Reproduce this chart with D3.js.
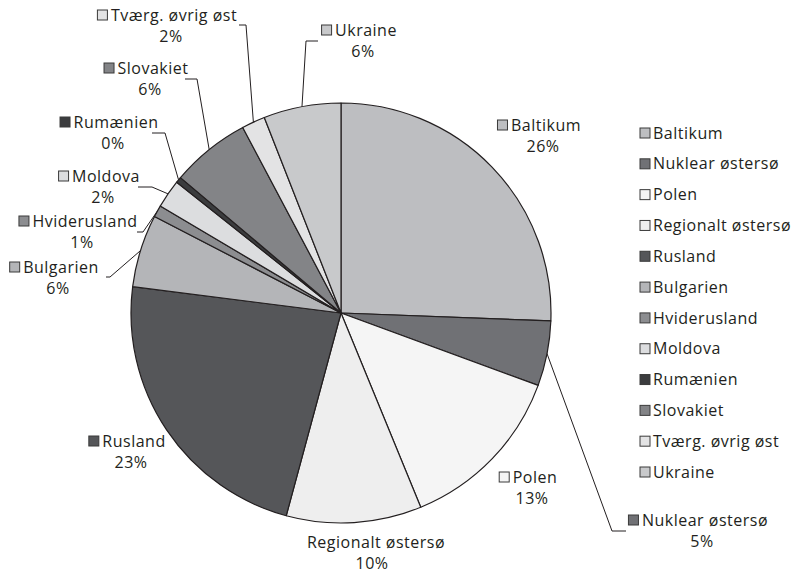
<!DOCTYPE html>
<html>
<head>
<meta charset="utf-8">
<script src="https://cdn.jsdelivr.net/npm/d3@7"></script>
<style>
  body { margin: 0; background: #fff; }
  svg { display: block; }
</style>
</head>
<body>
<div class="chart"></div>
<script>
// data
const names = ["Baltikum", "Nuklear østersø", "Polen", "Regionalt østersø", "Rusland", "Bulgarien",
  "Hviderusland", "Moldova", "Rumænien", "Slovakiet", "Tværg. øvrig øst", "Ukraine"];
const values = [25.6, 5.0, 13.2, 10.4, 22.8, 5.6, 0.9, 2.2, 0.45, 6.1, 1.8, 5.95];
const fills = ["#bdbec1", "#707175", "#f5f5f5", "#eeeeee", "#555659", "#b4b5b8",
  "#8c8d90", "#dcdddf", "#3b3c3e", "#838487", "#e3e3e4", "#c8c9cb"];

// where each data label sits: centre x of the % line, y of the name line,
// and (if any) the elbow and end of the leader line
const labelLayout = {
  "Baltikum":          {cx: 543, y: 125},
  "Nuklear østersø":   {cx: 702, y: 520, elbow: [612, 531], end: 626},
  "Polen":             {cx: 532, y: 477},
  "Regionalt østersø": {cx: 372, y: 542, noKey: true},
  "Rusland":           {cx: 131, y: 441},
  "Bulgarien":         {cx: 58,  y: 267, elbow: [110, 277], end: 106},
  "Hviderusland":      {cx: 82,  y: 221, elbow: [143, 232], end: 137},
  "Moldova":           {cx: 103, y: 176, elbow: [152, 187], end: 138},
  "Rumænien":          {cx: 113, y: 122, elbow: [165, 133], end: 152},
  "Slovakiet":         {cx: 150, y: 68,  elbow: [197, 79],  end: 185},
  "Tværg. øvrig øst":  {cx: 171, y: 15,  elbow: [246, 25],  end: 239},
  "Ukraine":           {cx: 363, y: 30,  elbow: [306, 41],  end: 318}
};

const width = 805;
const height = 573;
const cx = 341, cy = 313, radius = 210;
const font = "'Open Sans', sans-serif";
const ink = "#231f20";
const lineGap = 21.5;

const data = names.map((n, i) => ({name: n, value: values[i], fill: fills[i]}));
const total = d3.sum(values);

const svg = d3.select('.chart')
  .append('svg')
  .attr('width', width)
  .attr('height', height)
  .style('font-family', font)
  .style('font-size', '16px')
  .style('letter-spacing', '0.5px');

const pie = d3.pie().sort(null).value(d => d.value);
const arc = d3.arc().innerRadius(0).outerRadius(radius);
const arcs = pie(data);

const pieG = svg.append('g').attr('transform', `translate(${cx},${cy})`);
pieG.selectAll('path')
  .data(arcs)
  .join('path')
    .attr('d', arc)
    .attr('fill', d => d.data.fill)
    .attr('stroke', ink)
    .attr('stroke-width', 1.2)
    .attr('stroke-linejoin', 'round');

// leader lines
const leaders = svg.append('g')
  .attr('fill', 'none')
  .attr('stroke', ink)
  .attr('stroke-width', 1);

arcs.forEach(d => {
  const lay = labelLayout[d.data.name];
  if (!lay.elbow) return;
  const mid = (d.startAngle + d.endAngle) / 2;
  const sx = cx + radius * Math.sin(mid);
  const sy = cy - radius * Math.cos(mid);
  leaders.append('polyline')
    .attr('points', [[sx, sy], lay.elbow, [lay.end, lay.elbow[1]]].map(p => p.join(',')).join(' '));
});

// data labels
const labels = svg.append('g').attr('fill', ink);
arcs.forEach(d => {
  const lay = labelLayout[d.data.name];
  const g = labels.append('g');
  const t = g.append('text')
    .attr('y', lay.y)
    .attr('dy', '0.35em')
    .text(d.data.name);
  const tw = t.node().getComputedTextLength();
  if (lay.noKey) {
    t.attr('x', lay.cx + 4 - tw / 2);
  } else {
    const w = 14 + tw;
    const x0 = lay.cx - w / 2 - 4;
    g.append('rect')
      .attr('x', x0 + 0.5)
      .attr('y', lay.y - 5)
      .attr('width', 10)
      .attr('height', 10)
      .attr('fill', d.data.fill)
      .attr('stroke', '#3a3a3a')
      .attr('stroke-width', 1);
    t.attr('x', x0 + 14);
  }
  g.append('text')
    .attr('x', lay.cx)
    .attr('y', lay.y + lineGap)
    .attr('dy', '0.35em')
    .attr('text-anchor', 'middle')
    .text(Math.round(d.data.value / total * 100) + '%');
});

// legend
const legY = d3.scalePoint().domain(names).range([133, 472]);
const legend = svg.append('g');
legend.selectAll('rect')
  .data(data)
  .join('rect')
    .attr('x', 640)
    .attr('y', d => legY(d.name) - 5)
    .attr('width', 10)
    .attr('height', 10)
    .attr('fill', d => d.fill)
    .attr('stroke', '#3a3a3a')
    .attr('stroke-width', 1);
legend.selectAll('text')
  .data(data)
  .join('text')
    .attr('x', 653)
    .attr('y', d => legY(d.name))
    .attr('dy', '0.35em')
    .attr('fill', ink)
    .text(d => d.name);
</script>
</body>
</html>
